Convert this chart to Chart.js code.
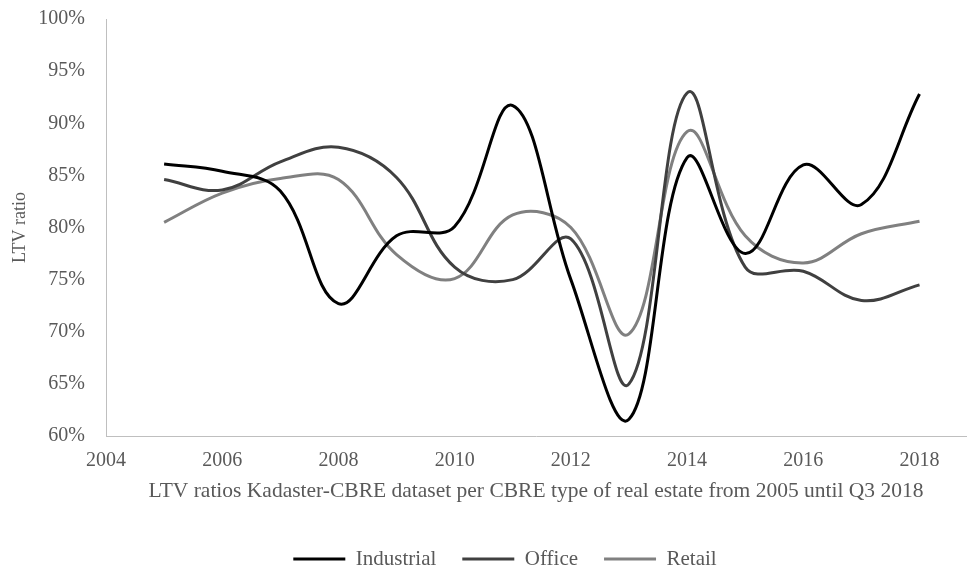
<!DOCTYPE html>
<html>
<head>
<meta charset="utf-8">
<script src="https://cdn.jsdelivr.net/npm/chart.js@4/dist/chart.umd.min.js"></script>
<style>
  html, body { margin: 0; padding: 0; background: #ffffff; }
  #wrap { width: 968px; height: 572px; position: relative; }
</style>
</head>
<body>
<div id="wrap"><canvas id="ltv" width="968" height="572"></canvas></div>
<script>
// Loan-to-value ratios per year and real-estate type (percent)
const years = [2005, 2006, 2007, 2008, 2009, 2010, 2011, 2012, 2013, 2014, 2015, 2016, 2017, 2018];
const industrial = [86.1, 85.4, 83.5, 72.7, 79.2, 80.1, 91.7, 75.0, 61.6, 86.7, 77.5, 86.0, 82.2, 92.8];
const office     = [84.6, 83.6, 86.3, 87.7, 84.8, 76.2, 75.0, 78.9, 65.0, 92.9, 76.2, 75.8, 73.0, 74.5];
const retail     = [80.5, 83.3, 84.7, 84.6, 77.4, 75.1, 81.2, 80.0, 69.8, 89.2, 79.2, 76.6, 79.4, 80.6];
const seriesNames = ['Industrial', 'Office', 'Retail'];
const xTitle = 'LTV ratios Kadaster-CBRE dataset per CBRE type of real estate from 2005 until Q3 2018';
const yTitle = 'LTV ratio';

const font = 'Liberation Serif';
const textColor = '#595959';
const axisColor = '#bfbfbf';

const toPoints = vals => vals.map((v, i) => ({ x: years[i], y: v }));

function line(label, values, color) {
  return {
    label,
    data: toPoints(values),
    borderColor: color,
    backgroundColor: color,
    borderWidth: 3,
    pointRadius: 0,
    pointHoverRadius: 0,
    tension: 0.38,
    fill: false
  };
}

// nudges the bottom legend row into place
const legendShift = {
  id: 'legendShift',
  afterLayout(chart) {
    const lg = chart.legend;
    if (lg) {
      lg.left += 22; lg.right += 22;
      lg.top += 7.5; lg.bottom += 7.5;
    }
  }
};

new Chart(document.getElementById('ltv'), {
  type: 'line',
  data: {
    datasets: [
      line(seriesNames[0], industrial, '#000000'),
      line(seriesNames[1], office, '#404040'),
      line(seriesNames[2], retail, '#808080')
    ]
  },
  plugins: [legendShift],
  options: {
    responsive: false,
    animation: false,
    layout: { padding: { top: 19, right: 2, left: 0, bottom: 0 } },
    plugins: {
      tooltip: { enabled: false },
      legend: {
        position: 'bottom',
        labels: {
          usePointStyle: true,
          pointStyle: 'line',
          pointStyleWidth: 52,
          boxHeight: 21,
          padding: 26,
          color: textColor,
          font: { family: font, size: 21 }
        }
      }
    },
    scales: {
      x: {
        type: 'linear',
        min: 2004,
        max: 2018.8,
        grid: { display: false, drawTicks: false },
        border: { display: true, color: axisColor, width: 1 },
        afterBuildTicks(scale) {
          scale.ticks = scale.ticks.filter(t => Number.isInteger(t.value) && t.value % 2 === 0);
        },
        afterFit(scale) { scale.height = 79; },
        ticks: {
          stepSize: 2,
          includeBounds: false,
          padding: 13,
          color: textColor,
          maxRotation: 0,
          autoSkip: false,
          font: { family: font, size: 20 },
          callback: v => String(v)
        },
        title: {
          display: true,
          text: xTitle,
          color: textColor,
          font: { family: font, size: 21.5 },
          padding: { top: 6, bottom: 10.4 }
        }
      },
      y: {
        min: 60,
        max: 100,
        grid: { display: false, drawTicks: false },
        border: { display: true, color: axisColor, width: 1 },
        afterFit(scale) { scale.width = 106; scale.paddingTop = 0; scale.paddingBottom = 0; },
        ticks: {
          stepSize: 5,
          padding: 21,
          color: textColor,
          font: { family: font, size: 20 },
          callback: v => v + '%'
        },
        title: {
          display: true,
          text: yTitle,
          color: textColor,
          font: { family: font, size: 18 },
          padding: { top: 9, bottom: 0 }
        }
      }
    }
  }
});
</script>
</body>
</html>
